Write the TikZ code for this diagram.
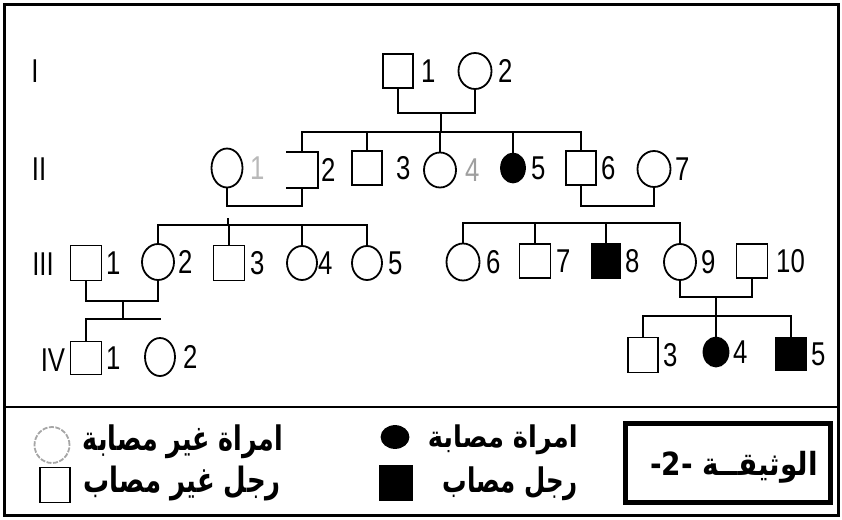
\documentclass[tikz,border=0pt]{standalone}
\usepackage{fontspec}
\setmainfont{Liberation Sans}
\newfontfamily\numfont[FakeStretch=0.78]{Liberation Sans}
\newfontfamily\arabicfont[Script=Arabic]{DejaVu Sans}
\TeXXeTstate=1
\usetikzlibrary{shapes.geometric}
\tikzset{
  ln/.style={line width=2pt, line cap=rect},
  male/.style={draw, line width=1.8pt, rectangle, minimum width=30pt, minimum height=34pt, inner sep=0pt},
  female/.style={draw, line width=1.8pt, ellipse, minimum width=32pt, minimum height=36pt, inner sep=0pt},
  aff/.style={fill=black},
  num/.style={font=\numfont\fontsize{33}{33}\selectfont, inner sep=0pt, anchor=west},
  gen/.style={font=\numfont\fontsize{33}{33}\selectfont, inner sep=0pt},
  ar/.style={inner sep=0pt, anchor=east},
}
\begin{document}
\begin{tikzpicture}[x=1pt,y=-1pt]
\useasboundingbox (0,0) rectangle (842,519);
\fill[white] (0,0) rectangle (842,519);
% frame
\draw[line width=3pt] (4,5) rectangle (838,515);
\coordinate (dL) at (4,407); \coordinate (dR) at (838,407);
\draw[line width=2.5pt] (dL) -- (dR);

% generation labels
\node[gen] (gI) at (35,71) {I};
\node[gen] (gII) at (39,169) {II};
\node[gen] (gIII) at (43,264) {III};
\node[gen] (gIV) at (53,360) {IV};

% Generation I
\node[male] (I1) at (398,71) {};
\node[female, minimum width=33pt] (I2) at (475,71) {};
\node[num] (lI1) at (421,71) {1};
\node[num] (lI2) at (498,71) {2};

% Generation II
\node[female, minimum width=31pt, minimum height=39pt] (II1) at (227,168) {};
\node[male, draw=none] (II2) at (302,170) {};
\draw[line width=1.8pt] (II2.north west) -- (II2.north east) -- (II2.south east) -- (II2.south west);
\node[male] (II3) at (367,168) {};
\node[female, minimum height=35pt] (II4) at (440,170) {};
\node[female, aff, minimum width=24pt, minimum height=29pt] (II5) at (513,168) {};
\node[male] (II6) at (581,168) {};
\node[female, minimum width=33pt] (II7) at (654,169) {};
\node[num, text=gray!55] (lII1) at (250,168) {1};
\node[num] (lII2) at (321,170) {2};
\node[num] (lII3) at (396,168) {3};
\node[num, text=gray!75] (lII4) at (465,170) {4};
\node[num] (lII5) at (531,168) {5};
\node[num] (lII6) at (601,168) {6};
\node[num] (lII7) at (675,169) {7};

% Generation III
\node[male, minimum width=31pt, minimum height=35pt] (III1) at (86,263) {};
\node[female] (III2) at (158,262) {};
\node[male, minimum width=31pt, minimum height=35pt] (III3) at (229,263) {};
\node[female, minimum width=30pt, minimum height=34pt] (III4) at (302,263) {};
\node[female, minimum width=30pt, minimum height=34pt] (III5) at (367,263) {};
\node[female, minimum width=33pt, minimum height=37pt] (III6) at (463,262) {};
\node[male, minimum width=31pt] (III7) at (535,261) {};
\node[male, aff, minimum width=29pt] (III8) at (606,261) {};
\node[female] (III9) at (680,262) {};
\node[male, minimum width=31pt] (III10) at (752,261) {};
\node[num] (lIII1) at (106,263) {1};
\node[num] (lIII2) at (178,262) {2};
\node[num] (lIII3) at (250,263) {3};
\node[num] (lIII4) at (318,263) {4};
\node[num] (lIII5) at (388,263) {5};
\node[num] (lIII6) at (486,262) {6};
\node[num] (lIII7) at (556,261) {7};
\node[num] (lIII8) at (625,261) {8};
\node[num] (lIII9) at (701,262) {9};
\node[num] (lIII10) at (776,261) {10};

% Generation IV
\node[male, minimum width=31pt, minimum height=33pt] (IV1) at (86,358) {};
\node[female, minimum width=30pt, minimum height=38pt] (IV2) at (160,357) {};
\node[male, minimum height=35pt] (IV3) at (643,355) {};
\node[female, aff, minimum width=25pt, minimum height=29pt] (IV4) at (716,352) {};
\node[male, aff, minimum height=33pt] (IV5) at (791,354) {};
\node[num] (lIV1) at (106,358) {1};
\node[num] (lIV2) at (183,357) {2};
\node[num] (lIV3) at (663,355) {3};
\node[num] (lIV4) at (733,352) {4};
\node[num] (lIV5) at (811,354) {5};

% connectors
\coordinate (m1) at (441,113);
\coordinate (s2) at (441,132);
\draw[ln] (I1.south) |- (m1) -| (I2.south);
\draw[ln] (m1) -- (s2);
\draw[ln] (II2.north |- s2) -- (II6.north |- s2);
\foreach \n in {II2,II3,II4,II5,II6} \draw[ln] (\n.north |- s2) -- (\n.north);

\coordinate (c2L) at (265,206);
\coordinate (c2R) at (617,206);
\draw[ln] (II1.south) |- (c2L) -| (II2.south);
\draw[ln] (II6.south) |- (c2R) -| (II7.south);

\coordinate (s3L) at (228,225);
\coordinate (t3L) at (228,219);
\draw[ln] (t3L) -- (s3L);
\draw[ln] (III2.north |- s3L) -- (III5.north |- s3L);
\foreach \n in {III2,III3,III4,III5} \draw[ln] (\n.north |- s3L) -- (\n.north);

\coordinate (s3R) at (570,223);
\draw[ln] (III6.north |- s3R) -- (III9.north |- s3R);
\foreach \n in {III6,III7,III8,III9} \draw[ln] (\n.north |- s3R) -- (\n.north);

\coordinate (c3L) at (123,301);
\coordinate (s4L) at (123,319);
\draw[ln] (III1.south) |- (c3L) -| (III2.south);
\draw[ln] (c3L) -- (s4L);
\draw[ln] (IV1.north |- s4L) -- (IV2.north |- s4L);
\draw[ln] (IV1.north |- s4L) -- (IV1.north);

\coordinate (c3R) at (716,297);
\coordinate (s4R) at (716,316);
\draw[ln] (III9.south) |- (c3R) -| (III10.south);
\draw[ln] (c3R) -- (IV4.north);
\draw[ln] (IV3.north |- s4R) -- (IV5.north |- s4R);
\foreach \n in {IV3,IV5} \draw[ln] (\n.north |- s4R) -- (\n.north);

% legend
\node[female, draw=gray!70, dashed, dash pattern=on 5pt off 1.5pt, minimum width=35pt, minimum height=36pt] (lgF) at (52,445) {};
\node[male, minimum width=30pt, minimum height=35pt] (lgM) at (55,485) {};
\node[female, aff, minimum width=27pt, minimum height=22pt] (lgFA) at (395,437) {};
\node[male, aff, minimum width=32pt, minimum height=35pt] (lgMA) at (396,483) {};
\node[ar] (t1) at (283,442) {\resizebox*{200pt}{34pt}{\arabicfont\bfseries\beginR امراة غير مصابة\endR}};
\node[ar] (t2) at (281,483) {\resizebox*{197pt}{35pt}{\arabicfont\bfseries\beginR رجل غير مصاب\endR}};
\node[ar] (t3) at (578,440) {\resizebox*{150pt}{30pt}{\arabicfont\bfseries\beginR امراة مصابة\endR}};
\node[ar] (t4) at (578,484) {\resizebox*{135pt}{34pt}{\arabicfont\bfseries\beginR رجل مصاب\endR}};
\node[draw, line width=5pt, minimum width=205pt, minimum height=79pt, inner sep=0pt] (doc) at (727.5,462.5) {};
\node[inner sep=0pt] (docT) at (734,467) {\resizebox*{168pt}{32pt}{\arabicfont\bfseries\beginR الوثيقــة \beginL-2-\endL\endR}};
\end{tikzpicture}
\end{document}
